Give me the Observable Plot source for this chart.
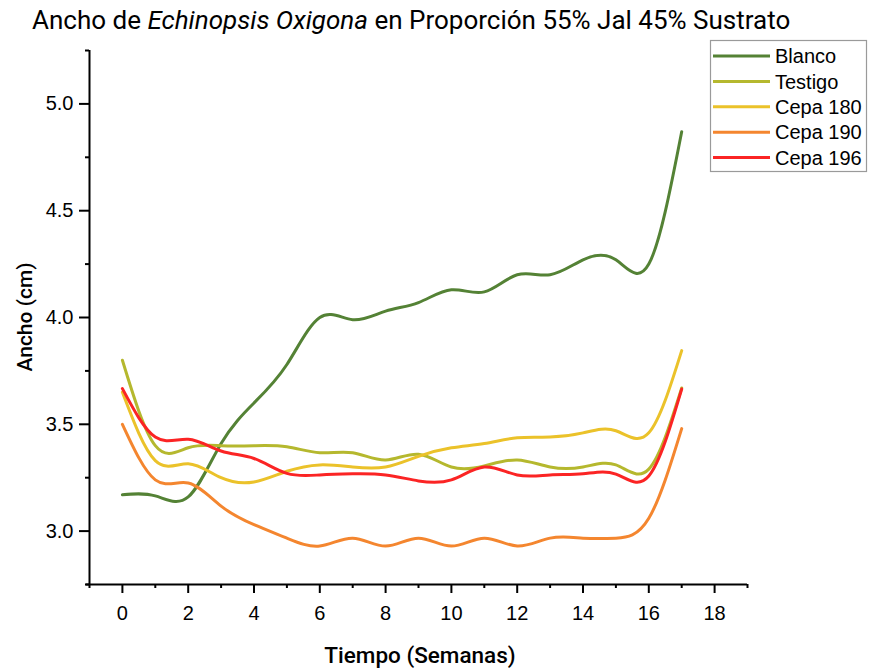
<!DOCTYPE html>
<html>
<head>
<meta charset="utf-8">
<script src="https://cdn.jsdelivr.net/npm/d3@7"></script>
<script src="https://cdn.jsdelivr.net/npm/@observablehq/plot@0.6"></script>
<style>
  html, body { margin: 0; padding: 0; background: #fff; }
  #chart { width: 873px; height: 669px; }
</style>
</head>
<body>
<div id="chart"></div>
<script>
// Weeks
const weeks = [0, 1, 2, 3, 4, 5, 6, 7, 8, 9, 10, 11, 12, 13, 14, 15, 16, 17];

// Series values (Ancho, cm)
const blanco  = [3.17, 3.165, 3.16, 3.41, 3.60, 3.78, 4.00, 3.99, 4.03, 4.07, 4.13, 4.12, 4.20, 4.20, 4.27, 4.27, 4.25, 4.87];
const testigo = [3.80, 3.40, 3.39, 3.40, 3.40, 3.395, 3.367, 3.367, 3.333, 3.36, 3.30, 3.305, 3.333, 3.30, 3.30, 3.31, 3.29, 3.67];
const cepa180 = [3.65, 3.33, 3.315, 3.25, 3.23, 3.28, 3.31, 3.30, 3.30, 3.35, 3.39, 3.41, 3.437, 3.44, 3.46, 3.47, 3.46, 3.845];
const cepa190 = [3.50, 3.24, 3.225, 3.117, 3.03, 2.967, 2.93, 2.967, 2.93, 2.967, 2.93, 2.967, 2.93, 2.967, 2.967, 2.967, 3.06, 3.48];
const cepa196 = [3.667, 3.44, 3.43, 3.375, 3.34, 3.27, 3.263, 3.268, 3.263, 3.235, 3.24, 3.30, 3.263, 3.263, 3.268, 3.267, 3.258, 3.665];

const seriesNames  = ["Blanco", "Testigo", "Cepa 180", "Cepa 190", "Cepa 196"];
const seriesValues = [blanco, testigo, cepa180, cepa190, cepa196];
const seriesColors = ["#548235", "#b5b82e", "#ebc22a", "#f4862f", "#fb2424"];

// Axis ticks
const xMajorTicks = [0, 2, 4, 6, 8, 10, 12, 14, 16, 18];
const xMinorTicks = [-1, 1, 3, 5, 7, 9, 11, 13, 15, 17, 19];
const yMajorTicks = [3.0, 3.5, 4.0, 4.5, 5.0];
const yMinorTicks = [2.75, 3.25, 3.75, 4.25, 4.75, 5.25];

const titleStart = "Ancho de ";
const titleItalic = "Echinopsis Oxigona";
const titleEnd = " en Proporción 55% Jal 45% Sustrato";
const xLabel = "Tiempo (Semanas)";
const yLabel = "Ancho (cm)";

const data = seriesNames.flatMap((name, s) =>
  weeks.map((w, i) => ({week: w, value: seriesValues[s][i], serie: name}))
);

const tickFont = "'Liberation Sans', Arial, sans-serif";

const svg = Plot.plot({
  width: 873,
  height: 669,
  marginLeft: 89,
  marginRight: 126,
  marginTop: 50,
  marginBottom: 85,
  style: {fontFamily: tickFont, background: "#fff", color: "#000"},
  x: {domain: [-1, 19]},
  y: {domain: [2.75, 5.25]},
  color: {domain: seriesNames, range: seriesColors},
  marks: [
    Plot.line(data, {x: "week", y: "value", stroke: "serie", strokeWidth: 3, curve: "natural"}),
    Plot.axisX({ticks: xMajorTicks, tickSize: 9, tickPadding: 12, strokeWidth: 2, fontSize: 20, label: null, tickFormat: d => String(d)}),
    Plot.axisX({ticks: xMinorTicks, tickSize: 4, strokeWidth: 2, tickFormat: () => "", label: null}),
    Plot.axisY({ticks: yMajorTicks, tickSize: 10, tickPadding: 6, strokeWidth: 2, fontSize: 20, label: null, tickFormat: d3.format(".1f")}),
    Plot.axisY({ticks: yMinorTicks, tickSize: 4, strokeWidth: 2, tickFormat: () => "", label: null}),
    Plot.ruleX([-1], {y1: 2.75, y2: 5.25, stroke: "#000", strokeWidth: 2}),
    Plot.ruleY([2.75], {x1: -1.1, x2: 19, stroke: "#000", strokeWidth: 2})
  ]
});

const root = d3.select(svg);

// Title
const title = root.append("text")
  .attr("x", 32).attr("y", 29)
  .attr("text-anchor", "start")
  .attr("font-family", "Roboto, 'DejaVu Sans', sans-serif")
  .attr("font-size", 26)
  .attr("fill", "#000");
title.append("tspan").text(titleStart);
title.append("tspan").attr("font-style", "italic").text(titleItalic);
title.append("tspan").text(titleEnd);

// Axis labels
root.append("text")
  .attr("x", 420).attr("y", 663)
  .attr("text-anchor", "middle")
  .attr("font-family", "Roboto, sans-serif")
  .attr("font-weight", 500)
  .attr("font-size", 22.5)
  .text(xLabel);

root.append("text")
  .attr("transform", "translate(32,317) rotate(-90)")
  .attr("text-anchor", "middle")
  .attr("font-family", "Roboto, sans-serif")
  .attr("font-weight", 500)
  .attr("font-size", 21)
  .text(yLabel);

// Legend
const lg = root.append("g");
lg.append("rect")
  .attr("x", 710.5).attr("y", 40.5).attr("width", 156).attr("height", 131)
  .attr("fill", "#fff").attr("stroke", "#9a9a9a").attr("stroke-width", 1.2);
seriesNames.forEach((name, i) => {
  const cy = 56 + i * 25.4;
  lg.append("line")
    .attr("x1", 713).attr("x2", 770).attr("y1", cy).attr("y2", cy)
    .attr("stroke", seriesColors[i]).attr("stroke-width", 3);
  lg.append("text")
    .attr("x", 775).attr("y", cy).attr("dy", "0.36em")
    .attr("text-anchor", "start")
    .attr("font-family", tickFont)
    .attr("font-size", 20)
    .text(name);
});

document.getElementById("chart").appendChild(svg);
</script>
</body>
</html>
